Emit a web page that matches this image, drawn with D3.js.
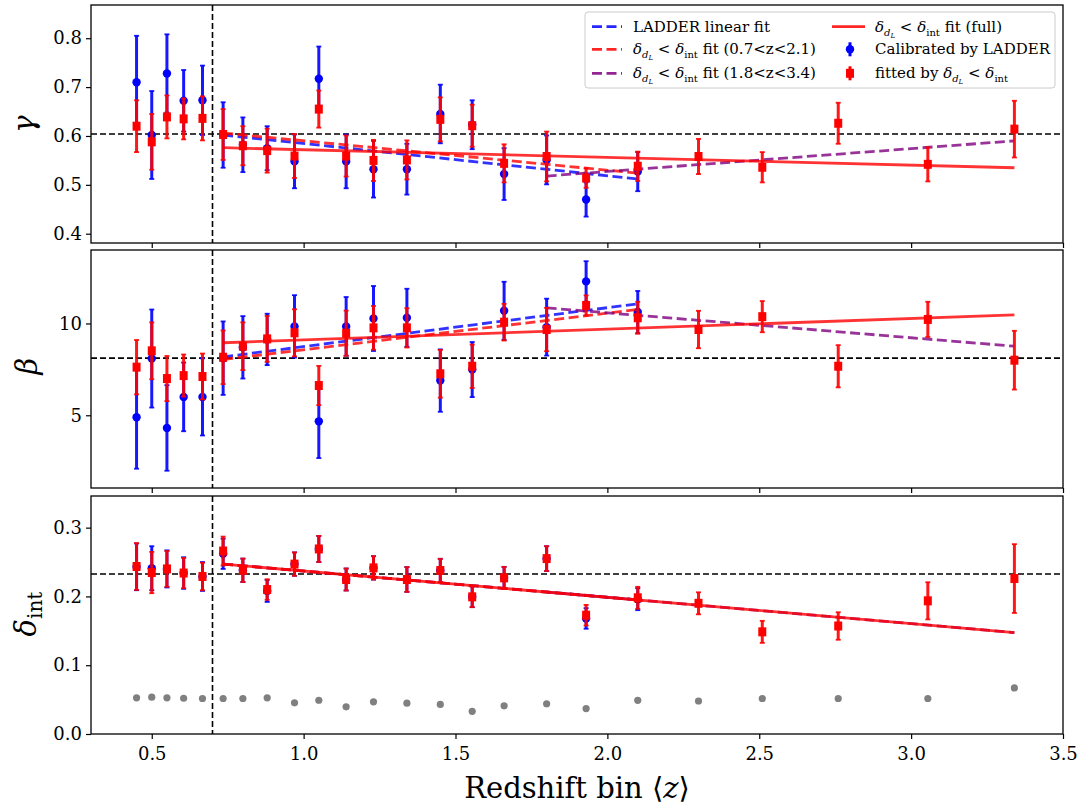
<!DOCTYPE html>
<html>
<head>
<meta charset="utf-8">
<script src="https://cdn.jsdelivr.net/npm/d3@7"></script>
<style>
  body { margin: 0; background: white; }
  svg { display: block; font-family: "DejaVu Serif", serif; }
</style>
</head>
<body>
<script>
// redshift bins
const zBins = [0.45, 0.50, 0.55, 0.605, 0.667, 0.735, 0.80, 0.88, 0.97, 1.05, 1.14, 1.23,
               1.34, 1.45, 1.555, 1.66, 1.80, 1.93, 2.10, 2.30, 2.51, 2.76, 3.055, 3.34];

// gamma
const gammaBlue = [0.710, 0.602, 0.728, 0.672, 0.673, 0.602, 0.582, 0.575, 0.548, 0.717, 0.548, 0.532,
                   0.532, 0.645, 0.623, 0.522, 0.551, 0.470, 0.527];
const gammaBlueErr = [0.095, 0.09, 0.08, 0.063, 0.071, 0.067, 0.056, 0.045, 0.055, 0.066, 0.055, 0.058,
                      0.052, 0.06, 0.05, 0.053, 0.05, 0.035, 0.04];
const gammaRed = [0.620, 0.588, 0.639, 0.635, 0.636, 0.603, 0.580, 0.570, 0.559, 0.655, 0.559, 0.550,
                  0.551, 0.634, 0.621, 0.544, 0.558, 0.514, 0.538, 0.558, 0.536, 0.626, 0.542, 0.614];
const gammaRedErr = [0.053, 0.057, 0.044, 0.042, 0.045, 0.052, 0.04, 0.045, 0.045, 0.038, 0.042, 0.042,
                     0.04, 0.045, 0.043, 0.039, 0.051, 0.02, 0.03, 0.036, 0.031, 0.042, 0.035, 0.058];

// beta
const betaBlue = [4.89, 8.09, 4.31, 6.0, 6.0, 8.11, 8.7, 9.13, 9.84, 4.67, 9.84, 10.27,
                  10.31, 6.89, 7.49, 10.69, 9.8, 12.29, 10.62];
const betaBlueErr = [2.8, 2.67, 2.33, 1.87, 2.1, 2.0, 1.7, 1.4, 1.7, 2.0, 1.6, 1.77,
                     1.58, 1.7, 1.5, 1.58, 1.55, 1.1, 1.15];
const betaRed = [7.62, 8.51, 7.0, 7.16, 7.11, 8.16, 8.76, 9.16, 9.49, 6.62, 9.47, 9.76,
                 9.76, 7.26, 7.67, 10.07, 9.67, 10.98, 10.31, 9.67, 10.37, 7.67, 10.22, 8.0];
const betaRedErr = [1.48, 1.55, 1.23, 1.15, 1.25, 1.46, 1.3, 1.25, 1.28, 1.07, 1.23, 1.19,
                    1.07, 1.3, 1.18, 1.0, 1.18, 0.55, 0.87, 1.02, 0.85, 1.15, 0.96, 1.6];

// delta_int
const deltaBlue = [0.243, 0.241, 0.240, 0.234, 0.229, 0.262, 0.238, 0.208, 0.247, 0.269, 0.2246, 0.2415,
                   0.2246, 0.2377, 0.1994, 0.227, 0.255, 0.168, 0.196];
const deltaBlueErr = [0.034, 0.032, 0.027, 0.023, 0.021, 0.022, 0.017, 0.016, 0.017, 0.019, 0.016, 0.017,
                      0.018, 0.017, 0.015, 0.016, 0.018, 0.015, 0.016];
const deltaRed = [0.2435, 0.2347, 0.240, 0.234, 0.229, 0.266, 0.238, 0.210, 0.247, 0.269, 0.2246, 0.2415,
                  0.2246, 0.2377, 0.1994, 0.227, 0.255, 0.1727, 0.198, 0.190, 0.1485, 0.157, 0.1936, 0.226];
const deltaRedErr = [0.034, 0.03, 0.026, 0.022, 0.02, 0.021, 0.017, 0.015, 0.017, 0.019, 0.016, 0.017,
                     0.018, 0.017, 0.015, 0.016, 0.018, 0.015, 0.016, 0.016, 0.016, 0.02, 0.027, 0.05];
const deltaGray = [0.0526, 0.0535, 0.0526, 0.052, 0.0516, 0.0516, 0.0516, 0.0526, 0.0453, 0.0491, 0.0395, 0.0468,
                   0.0448, 0.043, 0.033, 0.041, 0.044, 0.037, 0.049, 0.048, 0.0516, 0.0516, 0.0516, 0.067];

// fit lines: [z start, z end] and values at the ends
const ladderFitZ = [0.735, 2.10];
const partFitZ = [0.735, 2.10];
const highFitZ = [1.80, 3.34];
const fullFitZ = [0.735, 3.34];
const gammaFits = { ladder: [0.602, 0.512], part: [0.606, 0.524], high: [0.518, 0.590], full: [0.576, 0.535] };
const betaFits = { ladder: [8.18, 11.07], part: [8.04, 10.76], high: [10.85, 8.76], full: [8.95, 10.47] };
const deltaFits = { ladder: [0.247, 0.195], part: [0.247, 0.195], high: [0.2064, 0.1475], full: [0.247, 0.1475] };

// reference lines
const zCut = 0.7;
const gammaRef = 0.604, betaRef = 8.11, deltaRef = 0.2327;

const xTicks = [0.5, 1.0, 1.5, 2.0, 2.5, 3.0, 3.5];
const gammaTicks = [0.4, 0.5, 0.6, 0.7, 0.8];
const betaTicks = [5, 10];
const deltaTicks = [0.0, 0.1, 0.2, 0.3];

const W = 1083, H = 806;
const left = 91, right = 1063;

const svg = d3.select("body").append("svg").attr("width", W).attr("height", H);

const x = d3.scaleLinear().domain([0.3, 3.5]).range([left, right]);

const panels = [
    { top: 5, bottom: 243, domain: [0.381, 0.868], ticks: gammaTicks, fmt: d3.format(".1f"),
      blue: gammaBlue, blueErr: gammaBlueErr, red: gammaRed, redErr: gammaRedErr, fits: gammaFits, ref: gammaRef },
    { top: 250, bottom: 488, domain: [1.04, 14.0], ticks: betaTicks, fmt: d3.format("d"),
      blue: betaBlue, blueErr: betaBlueErr, red: betaRed, redErr: betaRedErr, fits: betaFits, ref: betaRef },
    { top: 496, bottom: 734, domain: [0, 0.346], ticks: deltaTicks, fmt: d3.format(".1f"),
      blue: deltaBlue, blueErr: deltaBlueErr, red: deltaRed, redErr: deltaRedErr, fits: deltaFits, ref: deltaRef,
      gray: deltaGray }
];

const drawErrorbars = (g, y, vals, errs, color, marker) => {
    const pts = vals.map((v, i) => ({ z: zBins[i], v: v, e: errs[i] }));
    const grp = g.append("g");
    grp.selectAll("line.bar").data(pts).enter().append("line")
        .attr("x1", d => x(d.z)).attr("x2", d => x(d.z))
        .attr("y1", d => y(d.v - d.e)).attr("y2", d => y(d.v + d.e))
        .attr("stroke", color).attr("stroke-width", 3).attr("opacity", 0.9);
    [-1, 1].forEach(s => {
        grp.selectAll("line.cap" + s).data(pts).enter().append("line")
            .attr("x1", d => x(d.z) - 2.5).attr("x2", d => x(d.z) + 2.5)
            .attr("y1", d => y(d.v + s * d.e)).attr("y2", d => y(d.v + s * d.e))
            .attr("stroke", color).attr("stroke-width", 1.8).attr("opacity", 0.9);
    });
    if (marker === "circle") {
        grp.selectAll("circle").data(pts).enter().append("circle")
            .attr("cx", d => x(d.z)).attr("cy", d => y(d.v)).attr("r", 4.2)
            .attr("fill", color);
    } else {
        grp.selectAll("rect").data(pts).enter().append("rect")
            .attr("x", d => x(d.z) - 4).attr("y", d => y(d.v) - 4.5)
            .attr("width", 8).attr("height", 9)
            .attr("fill", color);
    }
};

const fitLine = (g, y, zr, vr, color, dashed) => {
    const line = d3.line().x(d => x(d[0])).y(d => y(d[1]));
    g.append("path")
        .attr("d", line([[zr[0], vr[0]], [zr[1], vr[1]]]))
        .attr("fill", "none")
        .attr("stroke", color)
        .attr("stroke-width", 2.8)
        .attr("opacity", 0.8)
        .attr("stroke-dasharray", dashed ? "10,4.5" : null);
};

panels.forEach((p, idx) => {
    const y = d3.scaleLinear().domain(p.domain).range([p.bottom, p.top]);
    const g = svg.append("g");

    // reference dashed lines
    g.append("line")
        .attr("x1", left).attr("x2", right)
        .attr("y1", y(p.ref)).attr("y2", y(p.ref))
        .attr("stroke", "black").attr("stroke-width", 1.6).attr("stroke-dasharray", "6,3");
    g.append("line")
        .attr("x1", x(zCut)).attr("x2", x(zCut))
        .attr("y1", p.top).attr("y2", p.bottom)
        .attr("stroke", "black").attr("stroke-width", 1.6).attr("stroke-dasharray", "6,3");

    if (p.gray) {
        g.selectAll("circle.gray").data(p.gray).enter().append("circle")
            .attr("cx", (d, i) => x(zBins[i])).attr("cy", d => y(d)).attr("r", 3.6)
            .attr("fill", "gray");
    }

    drawErrorbars(g, y, p.blue, p.blueErr, "#0000ff", "circle");

    fitLine(g, y, ladderFitZ, p.fits.ladder, "#0000ff", true);
    fitLine(g, y, partFitZ, p.fits.part, "#ff0000", true);
    fitLine(g, y, highFitZ, p.fits.high, "#800080", true);
    fitLine(g, y, fullFitZ, p.fits.full, "#ff0000", false);

    drawErrorbars(g, y, p.red, p.redErr, "#ff0000", "square");

    // frame
    g.append("rect")
        .attr("x", left).attr("y", p.top)
        .attr("width", right - left).attr("height", p.bottom - p.top)
        .attr("fill", "none").attr("stroke", "black").attr("stroke-width", 1.3);

    const yAxis = g.append("g")
        .attr("transform", `translate(${left},0)`)
        .call(d3.axisLeft(y).tickValues(p.ticks).tickFormat(p.fmt).tickSize(5).tickPadding(4));
    yAxis.select(".domain").remove();
    yAxis.selectAll("text").attr("font-size", 18).attr("font-family", "DejaVu Serif").attr("fill", "black");
    yAxis.selectAll("line").attr("stroke-width", 1.2);

    const xAxis = g.append("g")
        .attr("transform", `translate(0,${p.bottom})`)
        .call(d3.axisBottom(x).tickValues(xTicks).tickFormat(idx === 2 ? d3.format(".1f") : "").tickSize(5).tickPadding(8));
    xAxis.select(".domain").remove();
    xAxis.selectAll("text").attr("font-size", 18).attr("font-family", "DejaVu Serif").attr("fill", "black");
    xAxis.selectAll("line").attr("stroke-width", 1.2);
});

// y labels
const ylab = (cy, cx, build) => {
    const t = svg.append("text")
        .attr("transform", `translate(${cx},${cy}) rotate(-90)`)
        .attr("text-anchor", "middle")
        .attr("font-size", 29)
        .attr("font-family", "DejaVu Serif");
    build(t);
};
ylab(124, 34, t => t.append("tspan").attr("font-style", "italic").text("γ"));
ylab(366, 37, t => t.append("tspan").attr("font-style", "italic").text("β"));
ylab(614, 36, t => {
    t.append("tspan").attr("font-style", "italic").text("δ");
    t.append("tspan").attr("font-size", 20).attr("dy", 6).text("int");
});

// x label
const xl = svg.append("text")
    .attr("x", (left + right) / 2).attr("y", 798)
    .attr("text-anchor", "middle")
    .attr("font-size", 29)
    .attr("font-family", "DejaVu Serif");
xl.append("tspan").text("Redshift bin ⟨");
xl.append("tspan").attr("font-style", "italic").text("z");
xl.append("tspan").text("⟩");

// legend
const leg = svg.append("g");
leg.append("rect")
    .attr("x", 585).attr("y", 12).attr("width", 470).attr("height", 76).attr("rx", 3)
    .attr("fill", "white").attr("fill-opacity", 0.85)
    .attr("stroke", "#cccccc").attr("stroke-width", 1);

const deltaCond = (t, tail) => {
    t.append("tspan").attr("font-style", "italic").text("δ");
    t.append("tspan").attr("font-style", "italic").attr("font-size", 10).attr("dy", 4).text("d");
    t.append("tspan").attr("font-style", "italic").attr("font-size", 7).attr("dy", 2).text("L");
    t.append("tspan").attr("dy", -6).text(" < ");
    t.append("tspan").attr("font-style", "italic").text("δ");
    t.append("tspan").attr("font-size", 10).attr("dy", 4).text("int");
    t.append("tspan").attr("font-size", 15).attr("dy", -4).text(tail);
};

const legRows = [26.7, 49.3, 73.3];
const col1 = [
    { color: "#0000ff", label: t => t.text("LADDER linear fit") },
    { color: "#ff0000", label: t => deltaCond(t, " fit (0.7<z<2.1)") },
    { color: "#800080", label: t => deltaCond(t, " fit (1.8<z<3.4)") }
];
col1.forEach((c, i) => {
    leg.append("line")
        .attr("x1", 592).attr("x2", 622).attr("y1", legRows[i]).attr("y2", legRows[i])
        .attr("stroke", c.color).attr("stroke-width", 2.8).attr("opacity", 0.85)
        .attr("stroke-dasharray", "10,4.5");
    const t = leg.append("text").attr("x", 633).attr("y", legRows[i] + 5)
        .attr("font-size", 15).attr("font-family", "DejaVu Serif");
    c.label(t);
});

// column 2
leg.append("line")
    .attr("x1", 832).attr("x2", 865).attr("y1", legRows[0]).attr("y2", legRows[0])
    .attr("stroke", "#ff0000").attr("stroke-width", 2.8).attr("opacity", 0.85);
deltaCond(leg.append("text").attr("x", 875).attr("y", legRows[0] + 5)
    .attr("font-size", 15).attr("font-family", "DejaVu Serif"), " fit (full)");

const mk = [
    { color: "#0000ff", shape: "circle", label: "Calibrated by LADDER" },
    { color: "#ff0000", shape: "square", label: null }
];
mk.forEach((m, i) => {
    const cy = legRows[i + 1];
    leg.append("line").attr("x1", 850).attr("x2", 850).attr("y1", cy - 7).attr("y2", cy + 7)
        .attr("stroke", m.color).attr("stroke-width", 3);
    if (m.shape === "circle") {
        leg.append("circle").attr("cx", 850).attr("cy", cy).attr("r", 4.2).attr("fill", m.color);
    } else {
        leg.append("rect").attr("x", 846).attr("y", cy - 4.5).attr("width", 8).attr("height", 9).attr("fill", m.color);
    }
    const t = leg.append("text").attr("x", 875).attr("y", cy + 5)
        .attr("font-size", 15).attr("font-family", "DejaVu Serif");
    if (m.label) {
        t.text(m.label);
    } else {
        t.append("tspan").text("fitted by ");
        t.append("tspan").attr("font-style", "italic").text("δ");
        t.append("tspan").attr("font-style", "italic").attr("font-size", 10).attr("dy", 4).text("d");
        t.append("tspan").attr("font-style", "italic").attr("font-size", 7).attr("dy", 2).text("L");
        t.append("tspan").attr("dy", -6).text(" < ");
        t.append("tspan").attr("font-style", "italic").text("δ");
        t.append("tspan").attr("font-size", 10).attr("dy", 4).text("int");
    }
});
</script>
</body>
</html>
